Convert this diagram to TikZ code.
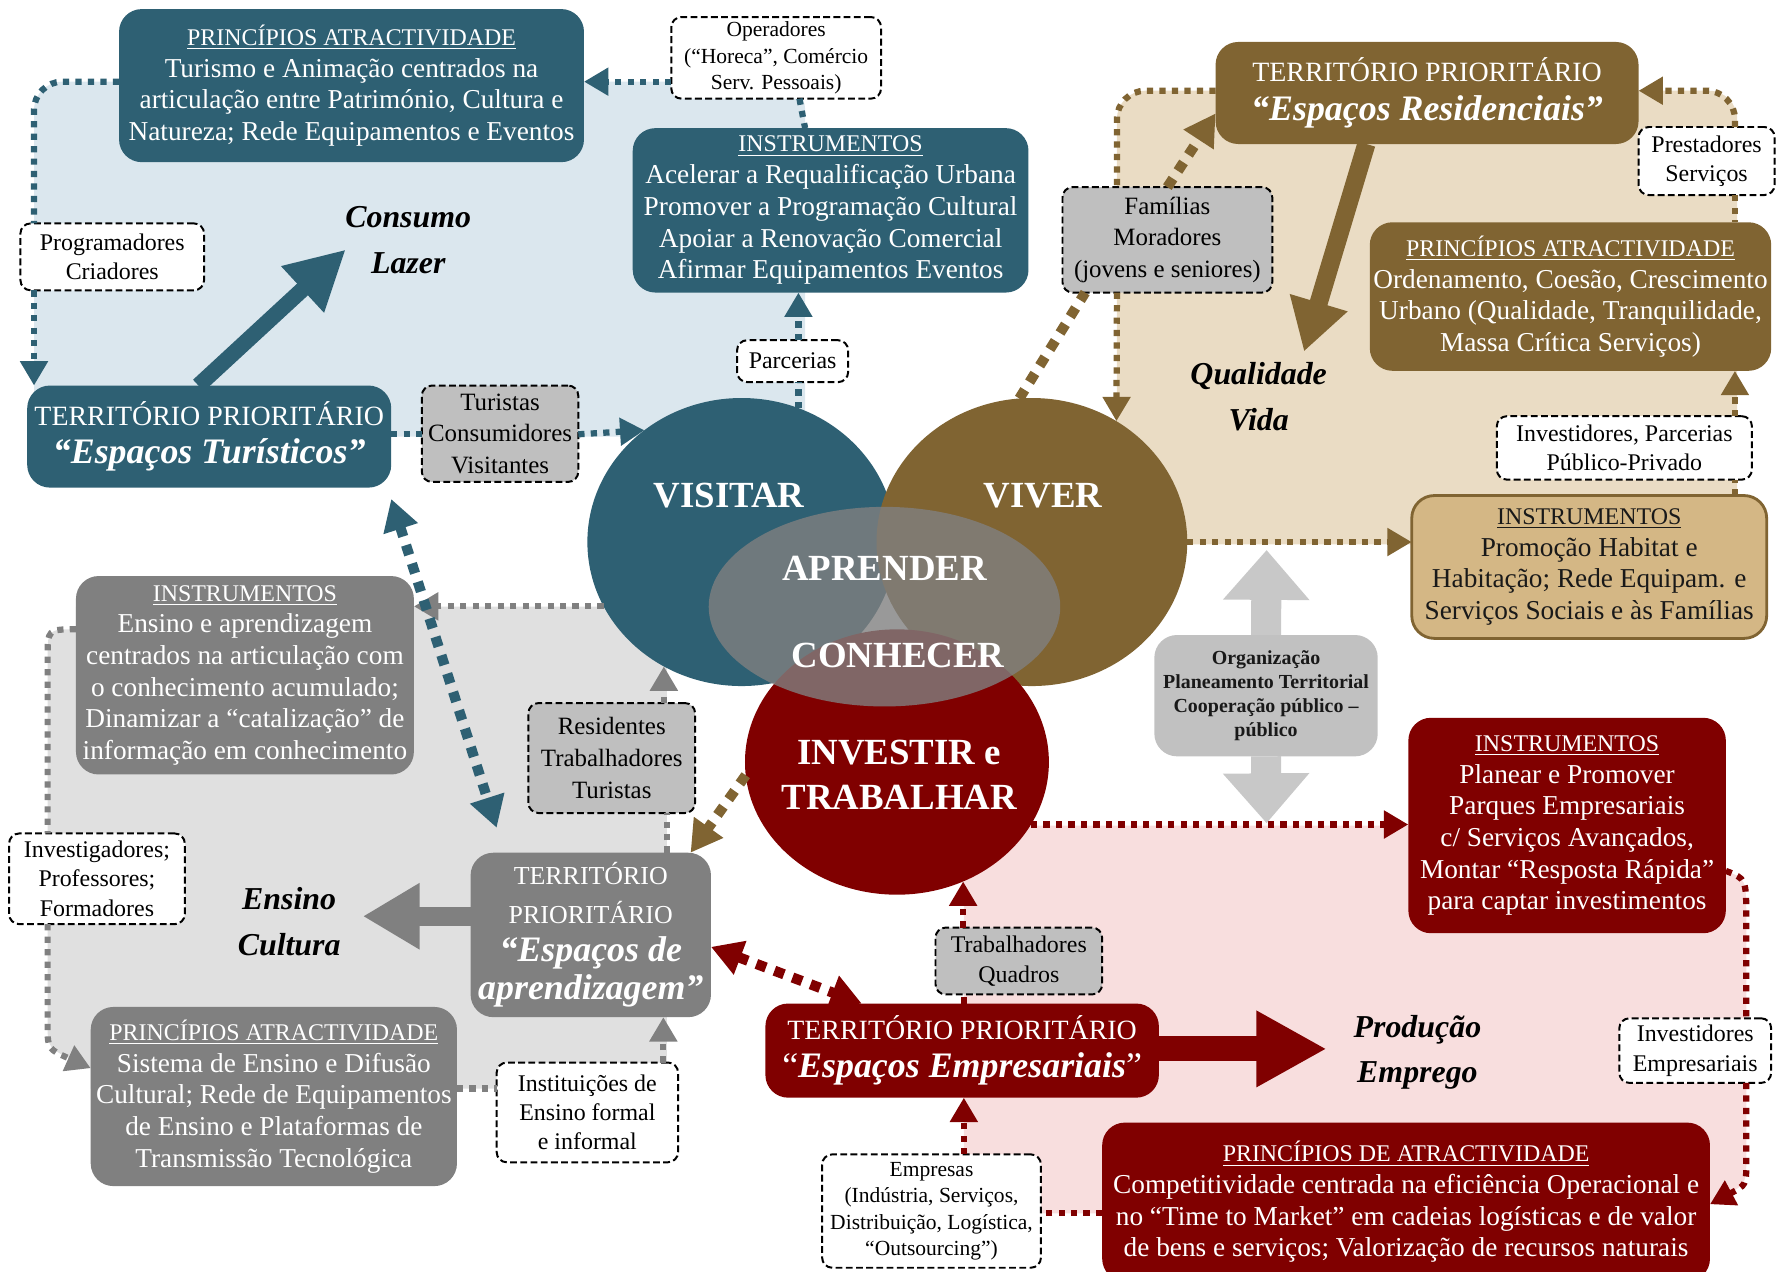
\documentclass[tikz,border=0pt]{standalone}
\usepackage{fontspec}
\setmainfont{Liberation Serif}
\usetikzlibrary{arrows.meta,shapes.geometric}

\definecolor{visblue}{RGB}{46,96,115}
\definecolor{vivbrown}{RGB}{128,100,50}
\definecolor{invred}{RGB}{128,0,0}
\definecolor{aprgray}{RGB}{128,128,128}
\definecolor{bgblue}{RGB}{219,231,238}
\definecolor{bgbeige}{RGB}{234,220,196}
\definecolor{bggray}{RGB}{224,224,224}
\definecolor{bgpink}{RGB}{248,222,222}
\definecolor{habtan}{RGB}{212,183,133}
\definecolor{taggray}{RGB}{191,191,191}
\definecolor{orggray}{RGB}{193,193,193}
\definecolor{arrgray}{RGB}{200,200,200}

\newcommand{\hdr}[1]{{\fontsize{12}{15.9}\selectfont\underline{#1}}}
\newcommand{\qf}{\fontsize{18}{19.3}\selectfont\bfseries\itshape}

\begin{document}
\begin{tikzpicture}[x=0.2mm, y=-0.2mm,
    box/.style={rounded corners=4mm, inner sep=0pt, outer sep=0pt, align=center, text=white, font=\fontsize{13.7}{15.9}\selectfont},
    bluebox/.style={box, fill=visblue},
    brownbox/.style={box, fill=vivbrown},
    redbox/.style={box, fill=invred},
    graybox/.style={box, fill=aprgray},
    terr/.style={font=\fontsize{14}{19.3}\selectfont},
    tag/.style={draw=black, line width=0.35mm, dash pattern=on 1.2mm off 0.6mm, rounded corners=1.8mm, fill=white, inner sep=0pt, outer sep=0pt, align=center, font=\fontsize{12}{14.7}\selectfont},
    graytag/.style={tag, fill=taggray, font=\fontsize{12.5}{15.9}\selectfont},
    smalltag/.style={tag, font=\fontsize{10.8}{13.3}\selectfont},
    keyword/.style={align=center, font=\fontsize{16}{23}\selectfont\bfseries\itshape},
    blob/.style={ellipse, inner sep=0pt, outer sep=0pt},
    blobtext/.style={text=white, align=center, font=\fontsize{18.5}{22.7}\selectfont\bfseries},
    link/.style={line width=1.1mm, dash pattern=on 1.1mm off 1.1mm},
    linkarrow/.style={link, -{Triangle[length=4.3mm, width=4.7mm]}},
    fatlink/.style={line width=1.8mm, dash pattern=on 1.8mm off 1.6mm},
    fattip/.style={-{Triangle[length=5.5mm, width=6mm]}},
    fatboth/.style={{Triangle[length=5.5mm, width=6mm]}-{Triangle[length=5.5mm, width=6mm]}},
    bigarrow/.style={-{Triangle[length=10.4mm, width=10.4mm]}}
]
\useasboundingbox (0,0) rectangle (1568,1121);

% Background regions
\fill[bgblue, rounded corners=5mm] (30,72) rectangle (710,385);
\fill[bgbeige, rounded corners=5mm] (985,80) rectangle (1532,480);
\fill[bggray] (67,535) -- (588,535) -- (588,960) -- (80,960) -- (80,942)
    .. controls (42,925) .. (42,905) -- (42,580) .. controls (42,555) .. (67,555) -- cycle;
\fill[bgpink] (850,728) -- (1522,728) -- (1522,768) .. controls (1540,775) .. (1540,810)
    -- (1540,1025) .. controls (1540,1045) .. (1508,1062) -- (1508,1070) -- (850,1070) -- cycle;

% Circles
\node[blob, fill=visblue, minimum width=54.4mm, minimum height=50.8mm] (vis) at (654,478) {};
\node[blob, fill=vivbrown, minimum width=54.8mm, minimum height=50.8mm] (viv) at (910,478) {};
\node[blob, fill=invred, minimum width=53.6mm, minimum height=46.8mm] (inv) at (791,672) {};
\node[blob, fill=aprgray, fill opacity=0.8, minimum width=62mm, minimum height=35.2mm] (apr) at (780,535) {};

\node[blobtext] (tvis) at (643,437) {VISITAR};
\node[blobtext] (tviv) at (920,437) {VIVER};
\node[blobtext] (tapr) at (780,501) {APRENDER};
\node[blobtext] (tcon) at (792,578) {CONHECER};
\node[blobtext] (tinv) at (793,683) {INVESTIR e\\TRABALHAR};

% Visitar
\node[bluebox, minimum width=82mm, minimum height=27mm] (tpa) at (310,75.5) {\hdr{PRINCÍPIOS ATRACTIVIDADE}\\Turismo e Animação centrados na\\articulação entre Património, Cultura e\\Natureza; Rede Equipamentos e Eventos};
\node[smalltag, minimum width=37mm, minimum height=14.4mm] (oper) at (684.5,51) {Operadores\\(“Horeca”, Comércio\\Serv. Pessoais)};
\node[bluebox, minimum width=69.8mm, minimum height=29mm] (tins) at (732.5,185.5) {\hdr{INSTRUMENTOS}\\Acelerar a Requalificação Urbana\\Promover a Programação Cultural\\Apoiar a Renovação Comercial\\Afirmar Equipamentos Eventos};
\node[tag, minimum width=32.4mm, minimum height=11.8mm] (prog) at (99,226.5) {Programadores\\Criadores};
\node[keyword] (cons) at (360,212) {Consumo\\Lazer};
\node[bluebox, terr, minimum width=64.2mm, minimum height=18mm] (tter) at (184.5,385) {TERRITÓRIO PRIORITÁRIO\\{\qf “Espaços Turísticos”}};
\node[graytag, minimum width=27.6mm, minimum height=17mm] (turi) at (441,382.5) {Turistas\\Consumidores\\Visitantes};
\node[tag, minimum width=19.6mm, minimum height=7.4mm] (parc) at (699,318.5) {Parcerias};

% Viver
\node[brownbox, terr, minimum width=74.6mm, minimum height=18mm] (rter) at (1258.5,82) {TERRITÓRIO PRIORITÁRIO\\{\qf “Espaços Residenciais”}};
\node[tag, minimum width=24mm, minimum height=12mm] (prest) at (1505,142) {Prestadores\\Serviços};
\node[graytag, minimum width=37mm, minimum height=18.6mm] (famil) at (1029.5,211.5) {Famílias\\Moradores\\(jovens e seniores)};
\node[brownbox, minimum width=70.8mm, minimum height=26.2mm] (rpa) at (1385,261.5) {\hdr{PRINCÍPIOS ATRACTIVIDADE}\\Ordenamento, Coesão, Crescimento\\Urbano (Qualidade, Tranquilidade,\\Massa Crítica Serviços)};
\node[keyword] (qual) at (1110,350) {Qualidade\\Vida};
\node[tag, minimum width=45mm, minimum height=11.2mm] (invpar) at (1432.5,395) {Investidores, Parcerias\\Público-Privado};
\node[box, fill=habtan, draw=vivbrown, line width=0.5mm, text=black!90, minimum width=62.6mm, minimum height=25.2mm] (rins) at (1401.5,500) {\hdr{INSTRUMENTOS}\\Promoção Habitat e\\Habitação; Rede Equipam. e\\Serviços Sociais e às Famílias};
\node[box, fill=orggray, text=black!90, font=\fontsize{10}{12}\selectfont\bfseries, minimum width=39.4mm, minimum height=21.4mm] (organ) at (1116.5,613.5) {Organização\\Planeamento Territorial\\Cooperação público –\\público};

% Aprender
\node[graybox, minimum width=59.6mm, minimum height=35mm] (eins) at (216,595.5) {\hdr{INSTRUMENTOS}\\Ensino e aprendizagem\\centrados na articulação com\\o conhecimento acumulado;\\Dinamizar a “catalização” de\\informação em conhecimento};
\node[tag, minimum width=31mm, minimum height=16mm] (invest) at (85.5,775) {Investigadores;\\Professores;\\Formadores};
\node[keyword] (ens) at (255,813) {Ensino\\Cultura};
\node[graybox, font=\fontsize{13}{19.3}\selectfont, minimum width=42.4mm, minimum height=29mm] (eter) at (521,824.5) {TERRITÓRIO\\PRIORITÁRIO\\{\qf “Espaços de}\\{\qf aprendizagem”}};
\node[graytag, minimum width=29.4mm, minimum height=19.4mm] (resid) at (539.5,668.5) {Residentes\\Trabalhadores\\Turistas};
\node[graybox, minimum width=64.6mm, minimum height=31.6mm] (epa) at (241.5,967) {\hdr{PRINCÍPIOS ATRACTIVIDADE}\\Sistema de Ensino e Difusão\\Cultural; Rede de Equipamentos\\de Ensino e Plataformas de\\Transmissão Tecnológica};
\node[tag, minimum width=32mm, minimum height=17.6mm] (instit) at (518,981) {Instituições de\\Ensino formal\\e informal};

% Investir e trabalhar
\node[redbox, minimum width=56mm, minimum height=38mm] (bins) at (1382,728) {\hdr{INSTRUMENTOS}\\Planear e Promover\\Parques Empresariais\\c/ Serviços Avançados,\\Montar “Resposta Rápida”\\para captar investimentos};
\node[graytag, font=\fontsize{12}{14.7}\selectfont, minimum width=29.4mm, minimum height=11.8mm] (trab) at (898.5,847.5) {Trabalhadores\\Quadros};
\node[redbox, terr, minimum width=69.4mm, minimum height=16.6mm] (bter) at (848.5,926.5) {TERRITÓRIO PRIORITÁRIO\\{\fontsize{18}{19.3}\selectfont “{\bfseries\itshape Espaços Empresariais}”}};
\node[keyword] (prod) at (1250,928) {Produção\\Emprego};
\node[tag, minimum width=26.8mm, minimum height=11.4mm] (invemp) at (1495,926.5) {Investidores\\Empresariais};
\node[smalltag, minimum width=38.6mm, minimum height=20mm] (empr) at (821.5,1068) {Empresas\\(Indústria, Serviços,\\Distribuição, Logística,\\“Outsourcing”)};
\node[redbox, minimum width=107.2mm, minimum height=28mm] (bpa) at (1240,1060) {\hdr{PRINCÍPIOS DE ATRACTIVIDADE}\\Competitividade centrada na eficiência Operacional e\\no “Time to Market” em cadeias logísticas e de valor\\de bens e serviços; Valorização de recursos naturais};

% Arrow tips
\coordinate (constip) at (305,220);
\coordinate (qualtip) at (1150,310);
\coordinate (enstip) at (320,808);
\coordinate (prodtip) at (1170,925);
\coordinate (orgtop) at (1117,485);
\coordinate (orgbot) at (1117,726);

% Dotted links, Visitar
\draw[linkarrow, visblue] (oper.west |- 0,72) -- (tpa.east |- 0,72);
\draw[link, visblue, rounded corners=5mm] (tpa.west |- 0,72) -| (prog.north -| 30,0);
\draw[linkarrow, visblue] (prog.south -| 30,0) -- (tter.north -| 30,0);
\draw[link, visblue] (oper.south -| 705,0) -- (tins.north -| 710,0);
\draw[link, visblue] (vis.67) -- (parc.south -| vis.67);
\draw[linkarrow, visblue] (parc.north -| vis.67) -- (tins.south -| vis.67);
\draw[link, visblue] (tter.east |- 0,383) -- (turi.west |- 0,383);
\draw[linkarrow, visblue] (turi.east |- 0,383) -- (vis.131);

% Dotted links, Viver
\draw[link, vivbrown, rounded corners=5mm] (rter.west |- 0,80) -| (famil.north -| 985,0);
\draw[linkarrow, vivbrown] (famil.south -| 985,0) -- (viv.55);
\draw[linkarrow, vivbrown, rounded corners=5mm] (prest.north -| 1530,0) |- (rter.east |- 0,80);
\draw[link, vivbrown] (prest.south -| 1530,0) -- (rpa.north -| 1530,0);
\draw[link, vivbrown] (rins.north -| 1530,0) -- (invpar.south -| 1530,0);
\draw[linkarrow, vivbrown] (invpar.north -| 1530,0) -- (rpa.south -| 1530,0);
\draw[linkarrow, vivbrown] (viv.east) -- (rins.west |- viv.east);

% Dotted links, Aprender
\draw[linkarrow, aprgray] (vis.205) -- (eins.east |- vis.205);
\draw[link, aprgray] (eins.west |- 0,555) .. controls (42,555) .. (42,580) -- (invest.north -| 42,0);
\draw[linkarrow, aprgray] (invest.south -| 42,0) -- (42,905) .. controls (42,925) .. (epa.west |- 0,942);
\draw[link, aprgray] (epa.east |- 0,960) -- (instit.west |- 0,960);
\draw[linkarrow, aprgray] (instit.north -| 585,0) -- (eter.south -| 585,0);
\draw[link, aprgray] (eter.north -| 588,0) -- (resid.south -| 588,0);
\draw[linkarrow, aprgray] (resid.north -| vis.238) -- (vis.238);

% Dotted links, Investir
\draw[linkarrow, invred] (inv.-25) -- (bins.west |- inv.-25);
\draw[link, invred] (bins.east |- 0,768) .. controls (1540,775) .. (1540,810) -- (invemp.north -| 1540,0);
\draw[linkarrow, invred] (invemp.south -| 1540,0) -- (1540,1025) .. controls (1540,1045) .. (bpa.east |- 0,1062);
\draw[link, invred] (bpa.west |- 0,1070) -- (empr.east |- 0,1070);
\draw[linkarrow, invred] (empr.north -| 850,0) -- (bter.south -| 850,0);
\draw[link, invred] (bter.north -| 850,0) -- (trab.south -| 850,0);
\draw[linkarrow, invred] (trab.north -| inv.-61) -- (inv.-61);

% Heavy dotted links
\draw[fatlink, fatboth, visblue] ([shift={(0,10)}]tter.south east) -- ([shift={(23,-22)}]eter.north west);
\draw[fatlink, vivbrown] (viv.95) -- ([xshift=4mm]famil.south west);
\draw[fatlink, fattip, vivbrown] (famil.north) -- ([shift={(0,18)}]rter.west);
\draw[fatlink, fattip, vivbrown] (inv.185) -- ([xshift=-3.6mm]eter.north east);
\draw[fatlink, fatboth, invred] (eter.east |- 0,835) -- ([xshift=17mm]bter.north west);

% Thick arrows
\draw[bigarrow, visblue, line width=2.8mm] (tter.north -| 175,0) -- (constip);
\draw[vivbrown, line width=3.2mm, -{Triangle[length=9mm, width=10mm]}] (rter.south -| 1205,0) -- (qualtip);
\draw[aprgray, line width=3.4mm, -{Triangle[length=10mm, width=11mm]}] (eter.west |- enstip) -- (enstip);
\draw[invred, line width=4.4mm, -{Triangle[length=12.4mm, width=12.6mm]}] (bter.east |- prodtip) -- (prodtip);
\draw[arrgray, line width=5.3mm, -{Triangle[length=8.8mm, width=14.7mm]}] (organ.north) -- (orgtop);
\draw[arrgray, line width=5.3mm, -{Triangle[length=8.8mm, width=14.7mm]}] (organ.south) -- (orgbot);

\end{tikzpicture}
\end{document}
